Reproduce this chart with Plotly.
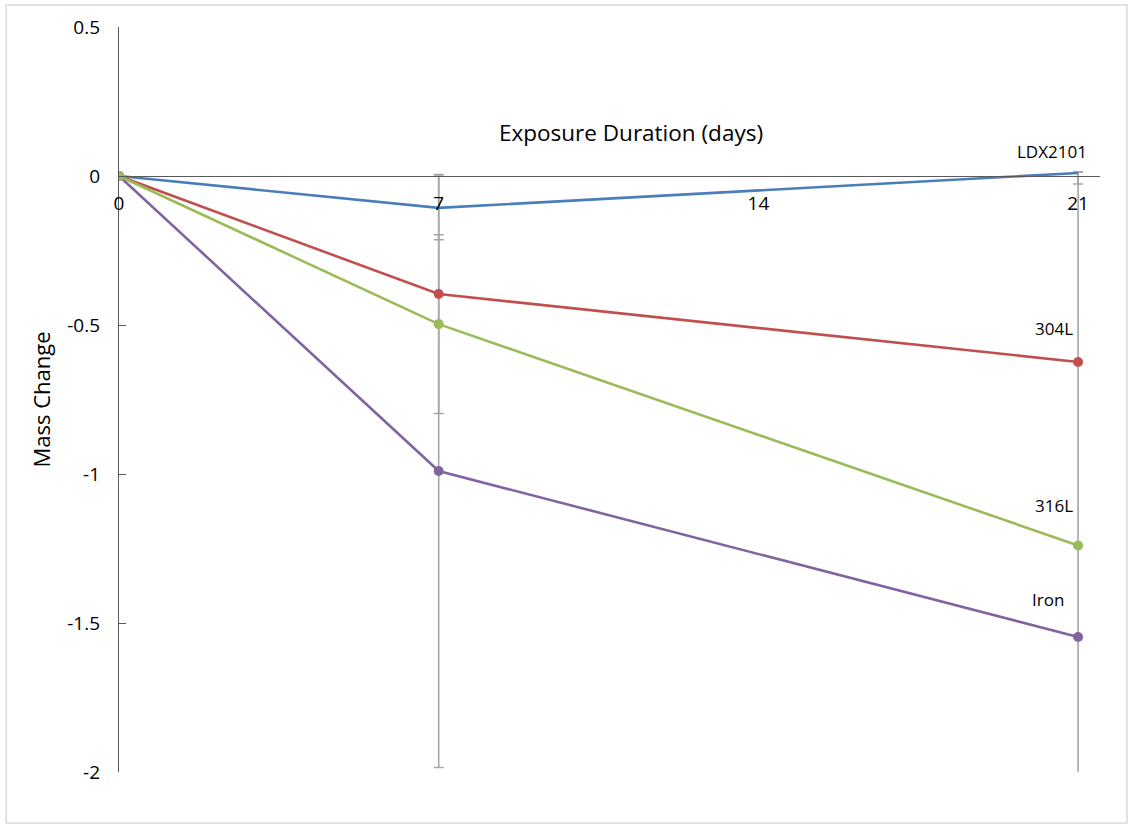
import plotly.graph_objects as go

# Exposure time points (days)
days = [0, 7, 21]

# Mass change per alloy
ldx2101 = [0.0, -0.107, 0.010]
s304l = [0.0, -0.396, -0.624]
s316l = [0.0, -0.497, -1.240]
iron = [0.0, -0.990, -1.547]

# Error bar half-widths (plus / minus) per alloy
ldx2101_err_plus = [0.0, 0.107, 0.003]
ldx2101_err_minus = [0.0, 0.107, 0.037]
s316l_err = [0.0, 0.300, 0.0]
iron_err = [0.0, 0.995, 1.560]

y_ticks = [0.5, 0, -0.5, -1, -1.5, -2]
y_tick_text = ["0.5", "0", "-0.5", "-1", "-1.5", "-2"]
x_ticks = [0, 7, 14, 21]
x_tick_text = ["0", "7", "14", "21"]

FONT = "Open Sans, Lato, DejaVu Sans, sans-serif"
ERR_COLOR = "#a6a6a6"

series = [
    ("LDX2101", ldx2101, "#4a7ebb", False),
    ("304L", s304l, "#c0504d", True),
    ("Iron", iron, "#8064a2", True),
    ("316L", s316l, "#9bbb59", True),
]

fig = go.Figure()

# Error bars first so the lines and markers sit on top of them
def err_trace(y, plus, minus):
    return go.Scatter(
        x=days, y=y, mode="markers",
        marker=dict(size=1, opacity=0),
        error_y=dict(type="data", array=plus, arrayminus=minus, symmetric=False,
                     color=ERR_COLOR, thickness=1.6, width=5),
        showlegend=False, hoverinfo="skip",
    )

fig.add_trace(err_trace(ldx2101, ldx2101_err_plus, ldx2101_err_minus))
fig.add_trace(err_trace(s316l, s316l_err, s316l_err))
fig.add_trace(err_trace(iron, iron_err, iron_err))

for name, vals, color, show_markers in series:
    if show_markers:
        fig.add_trace(go.Scatter(
            x=days, y=vals, name=name, mode="lines+markers",
            line=dict(color=color, width=2.6),
            marker=dict(color=color, size=10),
            showlegend=False,
        ))
    else:
        fig.add_trace(go.Scatter(
            x=days, y=vals, name=name, mode="lines",
            line=dict(color=color, width=2.6),
            showlegend=False,
        ))

# Series labels next to the day-21 points
label_offsets = {
    "LDX2101": (-26, 22),
    "304L": (-24, 33),
    "316L": (-24, 40),
    "Iron": (-30, 38),
}
for name, vals, color, _ in series:
    dx, dy = label_offsets[name]
    fig.add_annotation(
        x=days[-1], y=vals[-1], text=name, showarrow=False,
        xshift=dx, yshift=dy, font=dict(family=FONT, size=17, color="#000000"),
    )

# X axis title sits above the zero line
fig.add_annotation(
    x=0.522, y=0.858, xref="paper", yref="paper", yanchor="middle", xanchor="center",
    text="Exposure Duration (days)",
    showarrow=False, font=dict(family=FONT, size=22.5, color="#000000"),
)

y_min, y_max = -2.0, 0.5
fig.update_layout(
    width=1130, height=827,
    margin=dict(l=119, r=30, t=27, b=55),
    paper_bgcolor="white", plot_bgcolor="white",
    font=dict(family=FONT, color="#000000"),
    xaxis=dict(
        range=[0, 21.48], tickvals=x_ticks, ticktext=x_tick_text,
        showgrid=False, zeroline=False, showline=True, linecolor="#595959", linewidth=1.3,
        anchor="free", position=(0 - y_min) / (y_max - y_min),
        ticks="", ticklabelstandoff=10,
        tickfont=dict(family=FONT, size=19, color="#000000"),
    ),
    yaxis=dict(
        range=[y_min, y_max], tickvals=y_ticks, ticktext=y_tick_text,
        showgrid=False, zeroline=False, showline=True, linecolor="#595959", linewidth=1.3,
        ticks="inside", ticklen=7, tickcolor="#595959", tickwidth=1.3,
        ticklabelstandoff=14,
        tickfont=dict(family=FONT, size=19, color="#000000"),
        title=dict(text="Mass Change", font=dict(family=FONT, size=22, color="#000000"), standoff=10),
    ),
    shapes=[dict(
        type="rect", xref="paper", yref="paper",
        x0=-0.115, x1=1.0275, y0=-0.0685, y1=1.0295,
        line=dict(color="#d9d9d9", width=1.5), fillcolor="rgba(0,0,0,0)", layer="below",
    )],
)

fig.write_html("out.html")
